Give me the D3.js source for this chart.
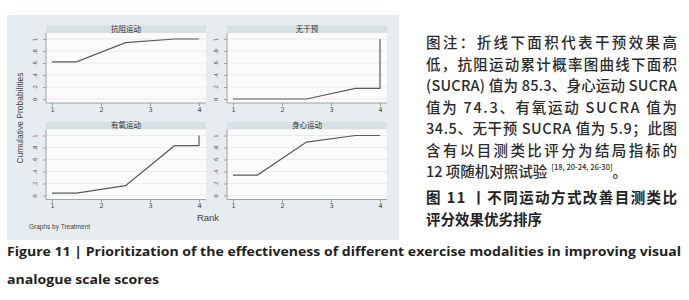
<!DOCTYPE html>
<html>
<head>
<meta charset="utf-8">
<script src="https://cdn.jsdelivr.net/npm/d3@7"></script>
<style>
  body { margin: 0; background: #fff; }
  svg { display: block; }
</style>
</head>
<body>
<div id="chart"></div>
<script>
// data
const ranks = [1, 2, 3, 4];
const treatments = ["抗阻运动", "无干预", "有氧运动", "身心运动"];
const cumResist = [0.62, 0.94, 1.0, 1.0];
const cumNone = [0.0, 0.0, 0.177, 1.0];
const cumAerobic = [0.04, 0.165, 0.83, 1.0];
const cumMindBody = [0.34, 0.89, 1.0, 1.0];
const yTicks = [0, 0.2, 0.4, 0.6, 0.8, 1];
const yTickLabels = ["0", ".2", ".4", ".6", ".8", "1"];
const xTicks = [1, 2, 3, 4];

const noteLines = [
  "图注：折线下面积代表干预效果高",
  "低，抗阻运动累计概率图曲线下面积",
  "(SUCRA) 值为 85.3、身心运动 SUCRA",
  "值为 74.3、有氧运动 SUCRA 值为",
  "34.5、无干预 SUCRA 值为 5.9；此图",
  "含有以目测类比评分为结局指标的"
];
const noteLast = "12 项随机对照试验";
const noteRefs = "[18, 20-24, 26-30]";
const titleLines = ["图 11 丨不同运动方式改善目测类比", "评分效果优劣排序"];
const captionLines = [
  "Figure 11  |  Prioritization of the effectiveness of different exercise modalities in improving visual",
  "analogue scale scores"
];

const width = 689, height = 300;
const svg = d3.select("#chart").append("svg")
  .attr("width", width).attr("height", height);

const panels = [
  {name: treatments[0], cum: cumResist, col: 0, row: 0},
  {name: treatments[1], cum: cumNone, col: 1, row: 0},
  {name: treatments[2], cum: cumAerobic, col: 0, row: 1},
  {name: treatments[3], cum: cumMindBody, col: 1, row: 1}
];

// graph background
svg.append("rect")
  .attr("x", 7).attr("y", 15).attr("width", 392).attr("height", 225)
  .attr("fill", "#e6ecef");

const colX = [46, 227];
const rowTop = [25.5, 122];
const plotW = 160, plotH = 70, headH = 7.5;

// mid-rank stair shape used by the sucra plot
const shape = function(cum){
  const n = ranks.length;
  const pts = [[ranks[0], cum[0]]];
  for (let i = 0; i < n - 1; i++) pts.push([ranks[i] + 0.5, cum[i]]);
  pts.push([ranks[n-1], cum[n-2]]);
  pts.push([ranks[n-1], cum[n-1]]);
  return pts;
};

panels.forEach(p => {
  const left = colX[p.col];
  const top = rowTop[p.row];
  const plotTop = top + headH;
  const g = svg.append("g");

  const x = d3.scaleLinear().domain([1, 4]).range([left + 6, left + 153]);
  const y = d3.scaleLinear().domain([0, 1]).range([plotTop + 66, plotTop + 6]);

  g.append("rect")
    .attr("x", left).attr("y", top).attr("width", plotW).attr("height", headH)
    .attr("fill", "#d6e0e5");
  g.append("text")
    .attr("x", left + plotW / 2).attr("y", top + headH / 2 + 2.6)
    .attr("text-anchor", "middle")
    .attr("font-family", "Noto Sans CJK SC")
    .attr("font-size", 7.5)
    .attr("fill", "#333")
    .text(p.name);

  g.append("rect")
    .attr("x", left).attr("y", plotTop).attr("width", plotW).attr("height", plotH)
    .attr("fill", "#fbfbfb");

  g.selectAll(".grid").data(yTicks).join("line")
    .attr("class", "grid")
    .attr("x1", left).attr("x2", left + plotW)
    .attr("y1", d => y(d)).attr("y2", d => y(d))
    .attr("stroke", "#e4e8ea").attr("stroke-width", 0.8);

  // axes
  const yAxis = d3.axisLeft(y).tickValues(yTicks).tickSize(3)
    .tickFormat((d, i) => yTickLabels[i]);
  const ya = g.append("g").attr("transform", `translate(${left},0)`).call(yAxis);
  ya.select(".domain").attr("d", `M0,${plotTop}V${plotTop + plotH}`);
  ya.selectAll("path, line").attr("stroke", "#8c8f91").attr("stroke-width", 0.8);
  ya.selectAll("text")
    .attr("font-family", "DejaVu Sans").attr("font-size", 5.5).attr("fill", "#555")
    .attr("x", null).attr("dy", null)
    .attr("text-anchor", "middle")
    .attr("transform", "translate(-11,0) rotate(-90) translate(0,2)");

  const xAxis = d3.axisBottom(x).tickValues(xTicks).tickSize(3).tickFormat(d3.format("d"));
  const xa = g.append("g").attr("transform", `translate(0,${plotTop + plotH})`).call(xAxis);
  xa.select(".domain").attr("d", `M${left},0H${left + plotW}`);
  xa.selectAll("path, line").attr("stroke", "#8c8f91").attr("stroke-width", 0.8);
  xa.selectAll("text")
    .attr("font-family", "DejaVu Sans").attr("font-size", 6.5).attr("fill", "#444")
    .attr("y", 4).attr("dy", "0.71em");

  const line = d3.line().x(d => x(d[0])).y(d => y(d[1]));
  g.append("path")
    .attr("d", line(shape(p.cum)))
    .attr("fill", "none")
    .attr("stroke", "#5a5a5a")
    .attr("stroke-width", 1.2);
});

svg.append("text")
  .attr("transform", "translate(23,118) rotate(-90)")
  .attr("text-anchor", "middle")
  .attr("font-family", "Liberation Sans").attr("font-size", 8.5).attr("fill", "#444")
  .text("Cumulative Probabilities");

svg.append("text")
  .attr("x", 208).attr("y", 220.5)
  .attr("text-anchor", "middle")
  .attr("font-family", "Liberation Sans").attr("font-size", 9.5).attr("fill", "#444")
  .text("Rank");

svg.append("text")
  .attr("x", 29).attr("y", 229)
  .attr("font-family", "Liberation Sans").attr("font-size", 6.5).attr("fill", "#444")
  .text("Graphs by Treatment");

// note on the right
const noteX = 426, noteR = 677;
const noteBase = [48, 69.5, 91, 112.5, 134, 155.5];
const note = svg.append("g")
  .attr("font-family", "Noto Sans CJK SC")
  .attr("font-size", 14.5)
  .attr("font-weight", 500)
  .attr("fill", "#2b2b2b");

noteLines.forEach((t, i) => {
  note.append("text")
    .attr("x", noteX).attr("y", noteBase[i])
    .attr("textLength", noteR - noteX)
    .attr("lengthAdjust", "spacing")
    .text(t);
});
const last = note.append("text").attr("x", noteX).attr("y", 177);
last.append("tspan").text(noteLast);
last.append("tspan").attr("font-size", 7.5).attr("dy", -7).attr("dx", 4).text(noteRefs);
last.append("tspan").attr("dy", 7).text("。");

const title = svg.append("g")
  .attr("font-family", "Noto Sans CJK SC")
  .attr("font-size", 14.5)
  .attr("font-weight", 700)
  .attr("fill", "#222");
title.append("text")
  .attr("x", noteX).attr("y", 203)
  .attr("textLength", noteR - noteX)
  .attr("lengthAdjust", "spacing")
  .text(titleLines[0]);
title.append("text")
  .attr("x", noteX).attr("y", 224.5)
  .text(titleLines[1]);

// english caption
const cap = svg.append("g")
  .attr("font-family", "Open Sans")
  .attr("font-size", 13)
  .attr("font-weight", 700)
  .attr("fill", "#222");
const c1 = cap.append("text").attr("x", 7).attr("y", 255.5).text(captionLines[0]);
const c2 = cap.append("text").attr("x", 7).attr("y", 284).text(captionLines[1]);
const w1 = c1.node().getComputedTextLength();
const squeeze = 674 / w1;
c1.attr("textLength", 674).attr("lengthAdjust", "spacingAndGlyphs");
c2.attr("textLength", c2.node().getComputedTextLength() * squeeze)
  .attr("lengthAdjust", "spacingAndGlyphs");
</script>
</body>
</html>
